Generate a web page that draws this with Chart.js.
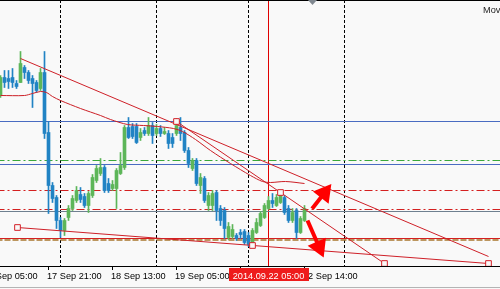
<!DOCTYPE html>
<html>
<head>
<meta charset="utf-8">
<script src="https://cdn.jsdelivr.net/npm/chart.js@4.4.1/dist/chart.umd.min.js"></script>
<style>
    html, body { margin: 0; padding: 0; background: #f9f9f9; }
    #wrap { width: 500px; height: 289px; }
</style>
</head>
<body>
<div id="wrap"><canvas id="chartH1" width="500" height="289"></canvas></div>
<script>
// H1 candles (level 0 = top of the plot, bigger = lower price)
const opens  = [95,77,78,77,83,82,67,72,78,82,88,72,132,185,197,220,230,217,208,200,
                194,196,205,195,180,173,167,183,188,188,173,167,127,126,126,137,130,133,125,133,
                128,133,133,137,133,127,132,150,168,160,185,178,205,205,192,208,210,237,236,235,
                232,231,235,244,232,225,217,208,200,205,202,197,208,220,210,232,220];
const highs  = [75,70,70,68,80,51,65,70,75,80,68,51,121,182,195,217,218,205,195,186,
                187,193,191,174,165,158,165,178,180,168,152,125,117,123,123,128,127,117,122,124,
                125,127,130,133,118,117,130,147,158,158,173,176,192,190,190,205,207,222,224,233,
                229,229,232,228,218,211,203,196,193,194,190,195,205,208,208,216,205];
const lows   = [97,87,88,87,88,82,78,83,107,92,90,138,213,202,228,237,235,220,210,202,
                202,207,212,197,182,175,192,192,190,208,174,169,138,138,143,140,135,135,143,135,
                136,134,148,147,135,140,152,167,170,185,193,202,210,210,220,225,238,239,238,240,
                238,244,246,246,233,226,218,209,207,206,203,214,222,222,238,233,221];
const closes = [77,82,81,82,86,63,72,80,83,90,72,133,185,198,220,230,220,208,198,190,
                199,205,193,177,168,167,190,190,184,170,165,127,137,136,142,132,133,125,135,128,
                133,131,143,143,125,133,150,163,160,183,177,200,195,193,210,220,228,226,229,238,
                234,242,244,230,222,213,205,200,203,197,195,212,220,212,232,218,208];

// moving average, points
const maBars   = [0, 6, 8, 10, 11.5, 13, 15, 20, 25, 27.5, 31.75, 35.75, 39.25, 43.25, 45.5, 48.75, 52.5, 57.5, 62.5, 65.5, 67.5, 71.25, 76];
const maLevels = [95, 95, 93, 91, 92, 96, 100, 108, 115, 119, 124, 125, 126, 128, 131, 139, 150, 163, 175, 181, 182, 181, 183];

// horizontal levels
const hLevels = [121, 160, 164, 190, 209, 211, 238, 239.5];

// trend lines and their handles
const trendFrom = [[5, 58], [44, 121], [4.25, 227]];
const trendTo   = [[122, 256], [96, 263], [122, 263]];
const handleBars   = [44, 70, 96, 4.25, 63, 122];
const handleLevels = [121, 192, 263, 227, 245, 263];

// hand drawn arrows
const arrowTails = [[77.9, 208.3], [76.75, 220]];
const arrowTips  = [[82.1, 186.7], [80.4, 253.3]];

// time axis
const daySeparators = [15, 39, 62, 86];
const tickBars   = [-4, 12, 28, 44, 60, 76];
const tickLabels = ['17 Sep 05:00', '17 Sep 21:00', '18 Sep 13:00', '19 Sep 05:00', '19 Sep 21:00', '22 Sep 14:00'];
const cursorBar = 67;
const cursorLabel = '2014.09.22 05:00';

const UP = '#5db659';
const DOWN = '#2183c4';
const AXIS_FONT = '9.2px "Liberation Sans", Arial, sans-serif';

const idx = opens.map((o, i) => i);
const candleColors = idx.map(i => closes[i] < opens[i] ? UP : DOWN);

const hStyles = [
    { color: '#4a6cc2', width: 1, dash: [] },
    { color: '#3aa83a', width: 1, dash: [8, 3, 2, 3] },
    { color: '#4a6cc2', width: 1, dash: [] },
    { color: '#d42020', width: 1, dash: [8, 3, 2, 3] },
    { color: '#d42020', width: 1, dash: [8, 3, 2, 3] },
    { color: '#6f8090', width: 1, dash: [] },
    { color: '#d42020', width: 1, dash: [] },
    { color: '#a8762c', width: 1.5, dash: [6, 2] }
];

function seg(a, b, color, width, dash, order) {
    return {
        type: 'line',
        data: [{ x: a[0], y: a[1] }, { x: b[0], y: b[1] }],
        borderColor: color,
        borderWidth: width,
        borderDash: dash || [],
        pointRadius: 0,
        fill: false,
        order: order
    };
}

const datasets = [];

// day separators and cursor line
daySeparators.forEach(function(b) {
    datasets.push(seg([b, -0.5], [b, 265.5], '#000000', 1, [3, 2], 7));
});
datasets.push(seg([cursorBar, -0.5], [cursorBar, 265.5], '#e00000', 1, [], 6));

// horizontal levels
hLevels.forEach(function(v, k) {
    const s = hStyles[k];
    datasets.push(seg([-1, v], [126, v], s.color, s.width, s.dash, 5));
});

// candles: wicks then bodies
datasets.push({
    type: 'bar',
    data: idx.map(i => ({ x: i, y: [highs[i], lows[i]] })),
    backgroundColor: candleColors,
    barThickness: 1,
    grouped: false,
    borderWidth: 0,
    order: 4
});
datasets.push({
    type: 'bar',
    data: idx.map(i => ({ x: i, y: [opens[i], closes[i]] })),
    backgroundColor: candleColors,
    barThickness: 3,
    grouped: false,
    borderWidth: 0,
    order: 3
});

// moving average
datasets.push({
    type: 'line',
    data: maBars.map((b, k) => ({ x: b, y: maLevels[k] })),
    borderColor: '#cc1f26',
    borderWidth: 1,
    tension: 0.3,
    pointRadius: 0,
    fill: false,
    order: 2
});

// trend lines
trendFrom.forEach(function(a, k) {
    datasets.push(seg(a, trendTo[k], '#cf2028', 1, [], 2));
});

// handles
datasets.push({
    type: 'line',
    showLine: false,
    data: handleBars.map((b, k) => ({ x: b, y: handleLevels[k] })),
    pointStyle: 'rect',
    pointRadius: 4,
    pointBorderWidth: 1,
    pointBorderColor: '#d42028',
    pointBackgroundColor: '#f9f9f9',
    order: 1
});

// arrows: shaft + triangle head (4 px per bar on x, 1 px per level on y)
const HEAD = 7.5;
arrowTails.forEach(function(t, k) {
    const tip = arrowTips[k];
    const dx = (tip[0] - t[0]) * 4;
    const dy = tip[1] - t[1];
    const len = Math.sqrt(dx * dx + dy * dy);
    const ux = dx / len, uy = dy / len;
    const head = [tip[0] - HEAD * ux / 4, tip[1] - HEAD * uy];
    const rot = Math.atan2(ux, -uy) * 180 / Math.PI;
    datasets.push({
        type: 'line',
        data: [{ x: t[0], y: t[1] }, { x: head[0], y: head[1] }],
        borderColor: '#ff0000',
        borderWidth: 4,
        pointRadius: [0, HEAD],
        pointStyle: 'triangle',
        pointRotation: [0, rot],
        pointBackgroundColor: '#ff0000',
        pointBorderColor: '#ff0000',
        fill: false,
        order: 0
    });
});

const chrome = {
    id: 'chrome',
    beforeDraw(chart) {
        const ctx = chart.ctx;
        ctx.save();
        ctx.fillStyle = '#f9f9f9';
        ctx.fillRect(0, 0, chart.width, chart.height);
        ctx.restore();
    },
    afterDraw(chart) {
        const ctx = chart.ctx;
        const xs = chart.scales.x;
        const bottom = chart.chartArea.bottom;
        ctx.save();

        // frame
        ctx.fillStyle = '#000000';
        ctx.fillRect(0, 0, chart.width, 1);
        ctx.fillRect(0, bottom, chart.width, 1);
        ctx.fillStyle = '#b4b4b4';
        ctx.fillRect(0, chart.height - 2, chart.width, 1);

        // chart shift marker
        const sx = xs.getPixelForValue(78);
        ctx.fillStyle = '#808890';
        ctx.beginPath();
        ctx.moveTo(sx - 4.5, 0);
        ctx.lineTo(sx + 4.5, 0);
        ctx.lineTo(sx, 5);
        ctx.closePath();
        ctx.fill();

        // indicator name
        ctx.font = AXIS_FONT;
        ctx.fillStyle = '#222222';
        ctx.textAlign = 'left';
        ctx.textBaseline = 'alphabetic';
        ctx.fillText('Moving Average', 483, 13);

        // time axis
        tickBars.forEach(function(b, k) {
            const px = Math.floor(xs.getPixelForValue(b));
            ctx.fillStyle = '#000000';
            ctx.fillRect(px, bottom, 1, 4);
            ctx.fillText(tickLabels[k], px - 1, 279);
        });

        // cursor date box
        const cx = xs.getPixelForValue(cursorBar);
        const tw = ctx.measureText(cursorLabel).width;
        ctx.fillStyle = '#ee1c1c';
        ctx.fillRect(Math.round(cx - tw / 2 - 4), bottom + 2, Math.round(tw + 8), 13);
        ctx.fillStyle = '#ffffff';
        ctx.textAlign = 'center';
        ctx.fillText(cursorLabel, cx, 279);

        ctx.restore();
    }
};

new Chart(document.getElementById('chartH1').getContext('2d'), {
    type: 'bar',
    data: { datasets: datasets },
    options: {
        responsive: false,
        animation: false,
        events: [],
        layout: { autoPadding: false, padding: { left: 0, right: 0, top: 0, bottom: 23 } },
        plugins: {
            legend: { display: false },
            tooltip: { enabled: false }
        },
        scales: {
            x: { type: 'linear', min: -0.125, max: 124.875, offset: false, display: false },
            y: { type: 'linear', min: -0.5, max: 265.5, reverse: true, display: false }
        }
    },
    plugins: [chrome]
});
</script>
</body>
</html>
